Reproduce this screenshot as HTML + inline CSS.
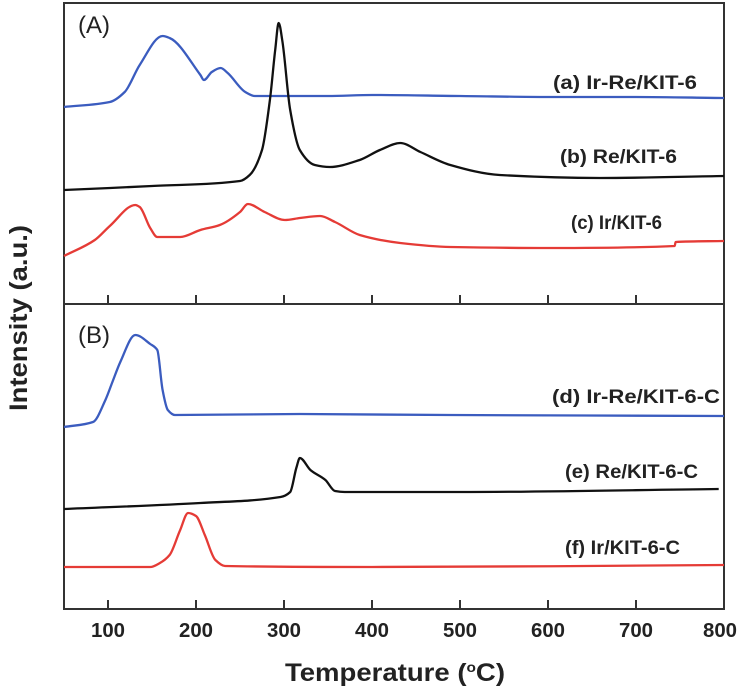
<!DOCTYPE html>
<html><head><meta charset="utf-8"><style>
html,body{margin:0;padding:0;background:#fff;}
svg{display:block;font-family:"Liberation Sans",Arial,sans-serif;}
</style></head><body>
<svg id="chart" width="742" height="688" viewBox="0 0 742 688" xmlns="http://www.w3.org/2000/svg">
<g id="frame"></g>
<g id="series"></g>
<g id="labels"></g>
</svg>
<script>
// x-axis
const xTicks = [100,200,300,400,500,600,700,800];
// Panel A (intensity a.u. above panel-A bottom)
const tA = [50,102,119,136,162,170,205,209,218,228,236,256,267,350,400,500,600,700,800];
const vA = [197,202,212,239,268,266,229,224,232,236,231,212,208,208,209,208,207,207,206];
const tB = [50,150,250,261,275,284,290,294,298,307,318,335,352,386,409,432,455,489,545,659,800];
const vB = [114,118,123,129,154,204,254,281,264,194,154,139,137,144,154,161,152,139,129,126,128];
const tC = [50,85,102,131,136,148,156,182,205,227,250,259,278,301,318,341,358,386,432,489,602,744,745,800];
const vC = [48,64,78,99,97,76,67,67,74,79,92,100,92,84,86,88,82,69,61,57,56,58,62,63];
// Panel B (intensity a.u. above panel-B bottom)
const tD = [50,83,97,105,114,131,148,156,162,168,176,318,489,800];
const vD = [182,187,209,227,247,274,265,259,219,199,194,195,194,193];
const tE = [50,205,296,307,314,318,330,347,358,369,500,794];
const vE = [100,106,112,117,141,151,139,129,118,117,117,120];
const tF = [50,148,159,170,182,191,200,210,222,233,400,800];
const vF = [42,42,46,54,79,96,93,74,49,43,42,44];
const seriesNames = ["(a) Ir-Re/KIT-6","(b) Re/KIT-6","(c) Ir/KIT-6","(d) Ir-Re/KIT-6-C","(e) Re/KIT-6-C","(f) Ir/KIT-6-C"];

const NS="http://www.w3.org/2000/svg";
const X0=64,X1=724,TOP=3,MID=304,BOT=609;
function xs(t){return X0+(t-50)*(X1-X0)/750;}
function yA(v){return MID-v;}
function yB(v){return BOT-v;}
function mk(tag,attrs,parent){const e=document.createElementNS(NS,tag);for(const k in attrs)e.setAttribute(k,attrs[k]);parent.appendChild(e);return e;}
const frame=document.getElementById('frame'),ser=document.getElementById('series'),lab=document.getElementById('labels');

let r=mk('rect',{x:X0,y:TOP,width:X1-X0,height:BOT-TOP,fill:'none',stroke:'#333','stroke-width':2},frame);


let d=mk('line',{x1:X0,x2:X1,y1:MID,y2:MID,stroke:'#333','stroke-width':2},frame);



xTicks.forEach(t=>{
  const x=xs(t);
  let a=mk('line',{x1:x,x2:x,y1:BOT,y2:BOT-9,stroke:'#333','stroke-width':2},frame);
  
  
  let b=mk('line',{x1:x,x2:x,y1:MID,y2:MID-9,stroke:'#333','stroke-width':2},frame);
  
  
  let tx=mk('text',{x:t===800?x-4:x,y:637,'text-anchor':'middle','font-size':20,'font-weight':'bold',fill:'#222',textLength:34,lengthAdjust:'spacingAndGlyphs'},lab);
  tx.textContent=t;
  
  
});

// monotone cubic path
function monoPath(P){
  const n=P.length; const m=new Array(n).fill(0); const s=[];
  for(let i=0;i<n-1;i++){const dx=P[i+1][0]-P[i][0];s.push(dx?(P[i+1][1]-P[i][1])/dx:0);}
  m[0]=s[0];m[n-1]=s[n-2];
  for(let i=1;i<n-1;i++){ if(s[i-1]*s[i]<=0) m[i]=0; else { const h0=P[i][0]-P[i-1][0],h1=P[i+1][0]-P[i][0]; m[i]=(3*(h0+h1))/((2*h1+h0)/s[i-1]+(h1+2*h0)/s[i]); } }
  let p='M'+P[0][0].toFixed(1)+','+P[0][1].toFixed(1);
  for(let i=0;i<n-1;i++){const h=(P[i+1][0]-P[i][0])/3;
    p+=' C'+(P[i][0]+h).toFixed(1)+','+(P[i][1]+m[i]*h).toFixed(1)+' '+(P[i+1][0]-h).toFixed(1)+','+(P[i+1][1]-m[i+1]*h).toFixed(1)+' '+P[i+1][0].toFixed(1)+','+P[i+1][1].toFixed(1);}
  return p;
}
function line(ts,vs,yf,color,name){
  const P=ts.map((t,i)=>[xs(t),yf(vs[i])]);
  const e=mk('path',{d:monoPath(P),fill:'none',stroke:color,'stroke-width':2.3,'stroke-linejoin':'round'},ser);
  
  
}
const BLUE='#3b5cbf',RED='#e53b36',BLK='#111';
line(tA,vA,yA,BLUE,'series-a-ir-re-kit6');
line(tB,vB,yA,BLK,'series-b-re-kit6');
line(tC,vC,yA,RED,'series-c-ir-kit6');
line(tD,vD,yB,BLUE,'series-d-ir-re-kit6-c');
line(tE,vE,yB,BLK,'series-e-re-kit6-c');
line(tF,vF,yB,RED,'series-f-ir-kit6-c');

const lx=[697,677,662,720,698,680], ly=[89,163,229,403,478,554], lw=[144,117,91,168,133,115];
seriesNames.forEach((s,i)=>{
  let e=mk('text',{x:lx[i],y:ly[i],'text-anchor':'end','font-size':19,'font-weight':'bold',fill:'#222',textLength:lw[i],lengthAdjust:'spacingAndGlyphs'},lab);
  e.textContent=s;
  
  
});
let pa=mk('text',{x:78,y:33,'font-size':24,fill:'#222'},lab);pa.textContent='(A)';


let pb=mk('text',{x:78,y:343,'font-size':24,fill:'#222'},lab);pb.textContent='(B)';


let xt=mk('text',{x:395,y:681,'text-anchor':'middle','font-size':25,'font-weight':'bold',fill:'#222',textLength:220,lengthAdjust:'spacingAndGlyphs'},lab);
xt.innerHTML='Temperature (<tspan dy="-9" font-size="14">o</tspan><tspan dy="9">C)</tspan>';


let yt=mk('text',{x:0,y:0,'text-anchor':'middle','font-size':25,'font-weight':'bold',fill:'#222',textLength:186,lengthAdjust:'spacingAndGlyphs',transform:'translate(27,318) rotate(-90)'},lab);
yt.textContent='Intensity (a.u.)';


</script>
</body></html>
